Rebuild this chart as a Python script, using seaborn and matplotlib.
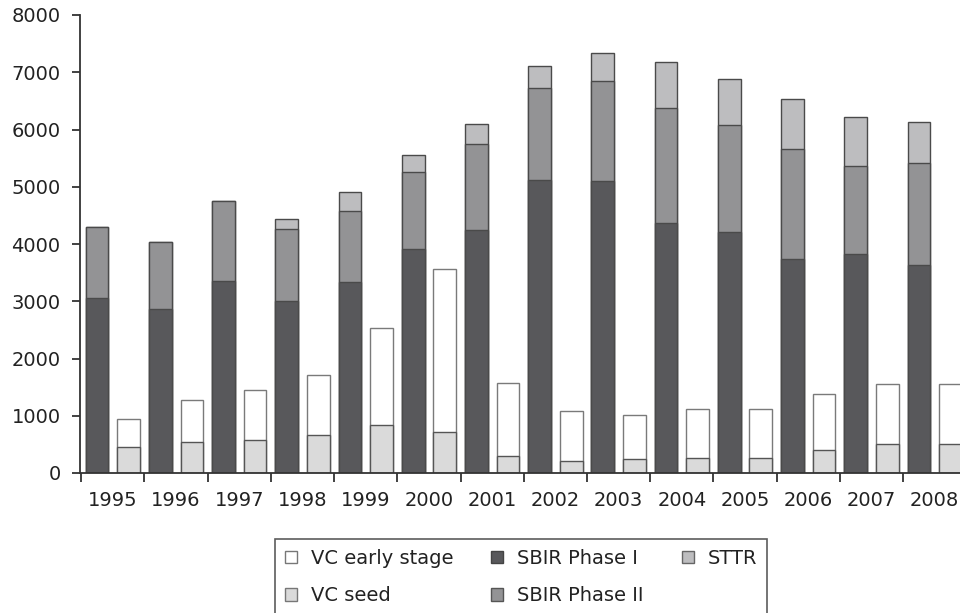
import pandas as pd
import numpy as np
import seaborn as sns
import matplotlib
matplotlib.use('Agg')
from matplotlib import pyplot as plt
from matplotlib.patches import Patch
from matplotlib.ticker import FixedLocator

years = [str(y) for y in range(1995, 2009)]
sbir_phase1 = [3060, 2870, 3345, 3010, 3335, 3910, 4240, 5110, 5095, 4375, 4210, 3740, 3825, 3640]
sbir_phase2 = [1240, 1170, 1405, 1250, 1235, 1340, 1510, 1615, 1750, 1995, 1875, 1920, 1545, 1775]
sttr = [0, 0, 0, 180, 345, 310, 340, 380, 490, 810, 805, 875, 850, 710]
vc_seed = [455, 545, 570, 670, 830, 710, 300, 210, 240, 260, 265, 405, 510, 510]
vc_early = [495, 730, 875, 1040, 1710, 2855, 1270, 865, 780, 850, 845, 975, 1050, 1050]

c_p1 = '#58585b'
c_p2 = '#939395'
c_sttr = '#bdbdbf'
c_seed = '#dadada'
c_early = '#ffffff'

sbir_df = pd.DataFrame({'year': years, 'kind': 'SBIR',
                        'p1': sbir_phase1,
                        'p12': np.add(sbir_phase1, sbir_phase2),
                        'total': np.add(np.add(sbir_phase1, sbir_phase2), sttr)})
vc_df = pd.DataFrame({'year': years, 'kind': 'VC',
                      'seed': vc_seed,
                      'total': np.add(vc_seed, vc_early)})

fig = plt.figure(figsize=(9.6, 6.13), dpi=100)
ax = fig.add_axes([80 / 960, 1 - 473 / 613, 1 - 80 / 960, (473 - 15) / 613])

common = dict(x='year', hue='kind', hue_order=['SBIR', 'VC'], order=years,
              dodge=True, width=1.0, gap=0.28, ax=ax, legend=False, saturation=1)

# SBIR stacks (drawn from top total downward)
sns.barplot(data=sbir_df, y='total', palette={'SBIR': c_sttr, 'VC': c_sttr},
            edgecolor='#4a4a4a', linewidth=1.0, **common)
sns.barplot(data=sbir_df, y='p12', palette={'SBIR': c_p2, 'VC': c_p2},
            edgecolor='#4a4a4a', linewidth=1.0, **common)
sns.barplot(data=sbir_df, y='p1', palette={'SBIR': c_p1, 'VC': c_p1},
            edgecolor='#4a4a4a', linewidth=1.0, **common)
# VC stacks
sns.barplot(data=vc_df, y='total', palette={'SBIR': c_early, 'VC': c_early},
            edgecolor='#7a7a7a', linewidth=1.0, **common)
sns.barplot(data=vc_df, y='seed', palette={'SBIR': c_seed, 'VC': c_seed},
            edgecolor='#555555', linewidth=1.0, **common)

ax.set_ylim(0, 8000)
ax.set_xlim(-0.52, 13.4)
ax.set_yticks(range(0, 8001, 1000))
ax.set_xlabel('')
ax.set_ylabel('')

for s in ['top', 'right']:
    ax.spines[s].set_visible(False)
for s in ['left', 'bottom']:
    ax.spines[s].set_color('#333333')
    ax.spines[s].set_linewidth(1.3)

ax.xaxis.set_minor_locator(FixedLocator(np.arange(-0.5, 13.6, 1.0)))
ax.tick_params(axis='x', which='major', length=0, pad=13, labelsize=14, labelcolor='#222222')
ax.tick_params(axis='x', which='minor', length=6.5, width=1.3, color='#333333', direction='out')
ax.tick_params(axis='y', length=6, width=1.3, color='#333333', pad=8, labelsize=14,
               labelcolor='#222222')

handles = [Patch(facecolor=c_early, edgecolor='#777777', label='VC early stage'),
           Patch(facecolor=c_seed, edgecolor='#777777', label='VC seed'),
           Patch(facecolor=c_p1, edgecolor='#444444', label='SBIR Phase I'),
           Patch(facecolor=c_p2, edgecolor='#555555', label='SBIR Phase II'),
           Patch(facecolor=c_sttr, edgecolor='#666666', label='STTR')]
leg = fig.legend(handles=handles, ncol=3, loc='upper center',
                 bbox_to_anchor=(521 / 960, 1 - 539 / 613), fontsize=14,
                 frameon=True, fancybox=False, edgecolor='#333333', borderaxespad=0,
                 handlelength=0.62, handleheight=0.62, handletextpad=0.72,
                 columnspacing=1.95, borderpad=0.5, labelspacing=0.95)
leg.get_frame().set_linewidth(1.2)
for t in leg.get_texts():
    t.set_color('#222222')

fig.savefig('out.png', dpi=100)
